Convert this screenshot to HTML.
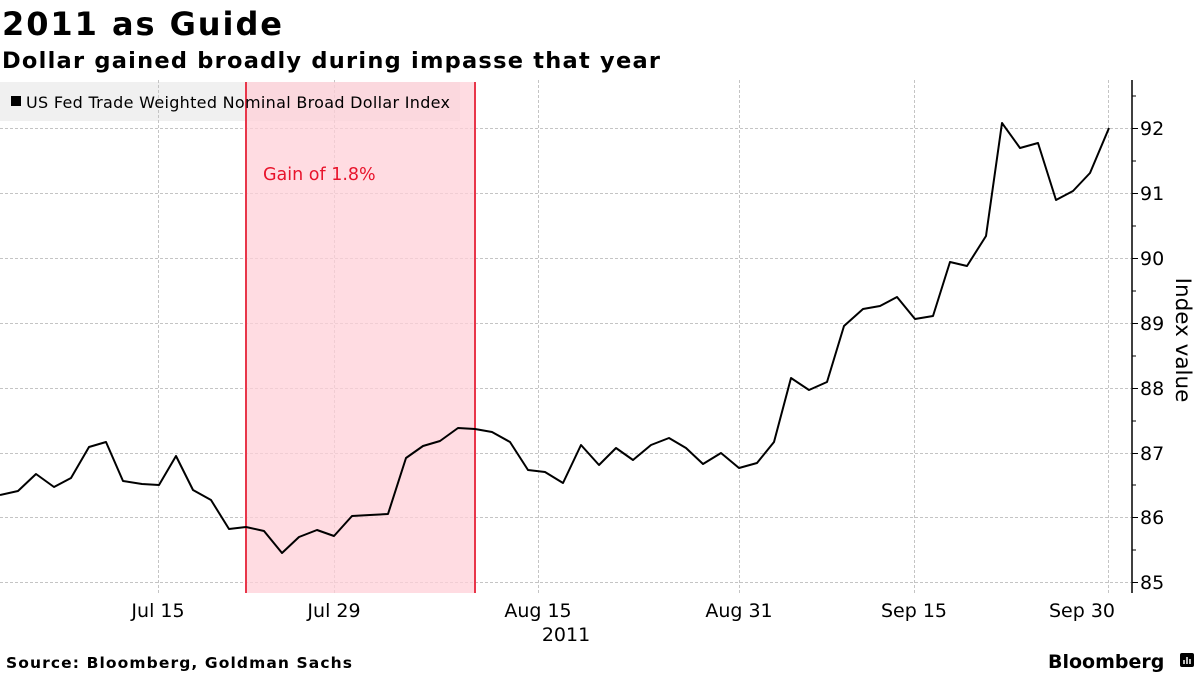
<!DOCTYPE html>
<html><head><meta charset="utf-8"><style>
body{margin:0;background:#fff;}
svg{display:block;font-family:"DejaVu Sans","Liberation Sans",sans-serif;}
</style></head><body>
<svg width="1200" height="675" xmlns="http://www.w3.org/2000/svg">
<text x="2" y="35" font-size="32" font-weight="bold" fill="#000" textLength="280" lengthAdjust="spacing">2011 as Guide</text>
<text x="2" y="68" font-size="22.5" font-weight="bold" fill="#000" textLength="658" lengthAdjust="spacing">Dollar gained broadly during impasse that year</text>
<rect x="0" y="82" width="460" height="39" fill="#f0f0f0"/>
<g stroke="#c4c4c4" stroke-width="1" stroke-dasharray="3,2">
<line x1="0" x2="1131" y1="128.5" y2="128.5"/><line x1="0" x2="1131" y1="193.5" y2="193.5"/>
<line x1="0" x2="1131" y1="258.5" y2="258.5"/><line x1="0" x2="1131" y1="323.5" y2="323.5"/>
<line x1="0" x2="1131" y1="388.5" y2="388.5"/><line x1="0" x2="1131" y1="453.5" y2="453.5"/>
<line x1="0" x2="1131" y1="517.5" y2="517.5"/><line x1="0" x2="1131" y1="582.5" y2="582.5"/>
<line x1="158.5" x2="158.5" y1="80" y2="593"/><line x1="334.5" x2="334.5" y1="80" y2="593"/>
<line x1="538.5" x2="538.5" y1="80" y2="593"/><line x1="739.5" x2="739.5" y1="80" y2="593"/>
<line x1="914.5" x2="914.5" y1="80" y2="593"/><line x1="1108.5" x2="1108.5" y1="80" y2="593"/>
</g>
<rect x="246" y="82" width="229" height="511" fill="#ffd0d8" opacity="0.75"/>
<line x1="246" x2="246" y1="82" y2="593" stroke="#e8364a" stroke-width="2"/>
<line x1="475" x2="475" y1="82" y2="593" stroke="#e8364a" stroke-width="2"/>
<rect x="11" y="96" width="10" height="10" fill="#000"/>
<text x="26" y="108" font-size="16" fill="#000" textLength="424" lengthAdjust="spacing">US Fed Trade Weighted Nominal Broad Dollar Index</text>
<text x="263" y="180" font-size="17.5" fill="#e8142c">Gain of 1.8%</text>
<polyline fill="none" stroke="#000" stroke-width="2" stroke-linejoin="round" points="0,495 18,491 36,474 54,487 71,478 89,447 106,442 123,481 142,484 159,485 176,456 193,490 211,500 229,529 246,527 264,531 282,553 299,537 317,530 334,536 352,516 370,515 388,514 406,458 423,446 440,441 458,428 475,429 492,432 510,442 528,470 545,472 563,483 581,445 599,465 616,448 633,460 651,445 669,438 686,448 703,464 721,453 739,468 757,463 774,442 791,378 809,390 827,382 844,326 863,309 880,306 897,297 915,319 933,316 950,262 967,266 986,236 1002,123 1020,148 1038,143 1056,200 1073,191 1090,173 1109,128"/>
<line x1="1132" x2="1132" y1="80" y2="593" stroke="#000" stroke-width="1.5"/>
<g stroke="#000" stroke-width="1">
<line x1="1132" x2="1138" y1="128.5" y2="128.5"/><line x1="1132" x2="1138" y1="193.5" y2="193.5"/>
<line x1="1132" x2="1138" y1="258.5" y2="258.5"/><line x1="1132" x2="1138" y1="323.5" y2="323.5"/>
<line x1="1132" x2="1138" y1="388.5" y2="388.5"/><line x1="1132" x2="1138" y1="453.5" y2="453.5"/>
<line x1="1132" x2="1138" y1="517.5" y2="517.5"/><line x1="1132" x2="1138" y1="582.5" y2="582.5"/>
<line x1="1132" x2="1136" y1="96" y2="96"/><line x1="1132" x2="1136" y1="161" y2="161"/>
<line x1="1132" x2="1136" y1="226" y2="226"/><line x1="1132" x2="1136" y1="291" y2="291"/>
<line x1="1132" x2="1136" y1="356" y2="356"/><line x1="1132" x2="1136" y1="421" y2="421"/>
<line x1="1132" x2="1136" y1="485" y2="485"/><line x1="1132" x2="1136" y1="550" y2="550"/>
</g>
<g font-size="19" fill="#000">
<text x="1140" y="135">92</text><text x="1140" y="200">91</text><text x="1140" y="265">90</text>
<text x="1140" y="330">89</text><text x="1140" y="395">88</text><text x="1140" y="460">87</text>
<text x="1140" y="524">86</text><text x="1140" y="589">85</text>
</g>
<text transform="translate(1176,340) rotate(90)" font-size="21.5" text-anchor="middle" fill="#000">Index value</text>
<g font-size="19" fill="#000" text-anchor="middle">
<text x="158" y="617">Jul 15</text><text x="334" y="617">Jul 29</text><text x="538" y="617">Aug 15</text>
<text x="739" y="617">Aug 31</text><text x="914" y="617">Sep 15</text><text x="1082" y="617">Sep 30</text>
<text x="566" y="641">2011</text>
</g>
<text x="6" y="668" font-size="15.5" font-weight="bold" fill="#000" textLength="346" lengthAdjust="spacing">Source: Bloomberg, Goldman Sachs</text>
<text x="1048" y="668" font-size="19" font-weight="bold" fill="#000">Bloomberg</text>
<rect x="1180" y="653" width="14" height="14" rx="2" fill="#000"/>
<g stroke="#fff" stroke-width="1.5"><line x1="1184" x2="1184" y1="660" y2="664"/><line x1="1187" x2="1187" y1="657" y2="664"/><line x1="1190" x2="1190" y1="659" y2="664"/></g>
</svg>
</body></html>
